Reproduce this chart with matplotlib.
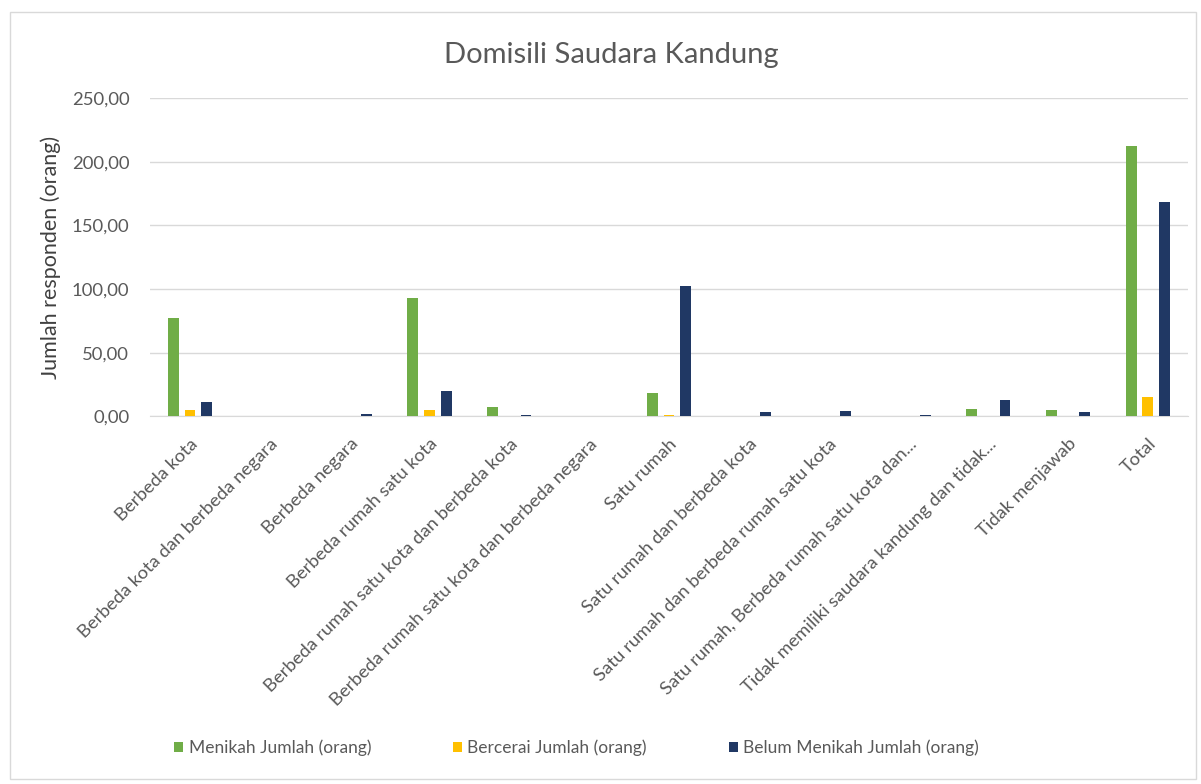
import matplotlib

matplotlib.use("Agg")
import matplotlib.pyplot as plt
import numpy as np
from matplotlib.patches import Rectangle
from matplotlib.ticker import FuncFormatter

CATEGORIES = [
    "Berbeda kota",
    "Berbeda kota dan berbeda negara",
    "Berbeda negara",
    "Berbeda rumah satu kota",
    "Berbeda rumah satu kota dan berbeda kota",
    "Berbeda rumah satu kota dan berbeda negara",
    "Satu rumah",
    "Satu rumah dan berbeda kota",
    "Satu rumah dan berbeda rumah satu kota",
    "Satu rumah, Berbeda rumah satu kota dan...",
    "Tidak memiliki saudara kandung dan tidak...",
    "Tidak menjawab",
    "Total",
]
MENIKAH = [77, 0, 0, 93, 7, 0, 18, 0, 0, 0, 6, 5, 212]
BERCERAI = [5, 0, 0, 5, 0, 0, 1, 0, 0, 0, 0, 0, 15]
BELUM_MENIKAH = [11, 0, 2, 20, 1, 0, 102, 3, 4, 1, 13, 3, 168]

SERIES = [
    ("Menikah Jumlah (orang)", MENIKAH, "#70AD47"),
    ("Bercerai Jumlah (orang)", BERCERAI, "#FFC000"),
    ("Belum Menikah Jumlah (orang)", BELUM_MENIKAH, "#203864"),
]

plt.rcParams["font.family"] = ["Lato", "DejaVu Sans"]
TEXT_COLOR = "#595959"

fig = plt.figure(figsize=(12.01, 7.84), dpi=100)
fig.patches.append(
    Rectangle((0.008, 0.006), 0.988, 0.979, transform=fig.transFigure,
              fill=False, edgecolor="#D9D9D9", linewidth=1)
)
ax = fig.add_axes([0.125, 0.469, 0.864, 0.406])

x = np.arange(len(CATEGORIES))
width = 0.135
offsets = [-0.21, 0.0, 0.21]
for (label, values, color), offset in zip(SERIES, offsets):
    ax.bar(x + offset, values, width=width, color=color, label=label, zorder=3)

ax.set_xlim(-0.5, len(CATEGORIES) - 0.5)
ax.set_ylim(0, 250)
ax.set_yticks(np.arange(0, 251, 50))
ax.yaxis.set_major_formatter(FuncFormatter(lambda v, _: f"{v:.2f}".replace(".", ",")))
ax.grid(axis="y", color="#D9D9D9", linewidth=1, zorder=0)
ax.set_xticks(x)
ax.set_xticklabels(CATEGORIES, rotation=45, ha="right", rotation_mode="anchor",
                   fontsize=13.3, color=TEXT_COLOR)
ax.tick_params(axis="y", labelsize=13.3, labelcolor=TEXT_COLOR, length=0, pad=15)
ax.tick_params(axis="x", length=0, pad=14)
for side in ("top", "right", "left"):
    ax.spines[side].set_visible(False)
ax.spines["bottom"].set_color("#D9D9D9")
ax.set_ylabel("Jumlah responden (orang)", fontsize=15.5, color="#404040", labelpad=8)

fig.suptitle("Domisili Saudara Kandung", x=0.509, y=0.946, fontsize=21, color=TEXT_COLOR)
fig.legend(loc="center", bbox_to_anchor=(0.48, 0.046), ncol=3, frameon=False,
           fontsize=12.5, labelcolor=TEXT_COLOR, handlelength=0.55, handleheight=0.55,
           handletextpad=0.3, columnspacing=4.7)

fig.savefig("out.png", dpi=100)
